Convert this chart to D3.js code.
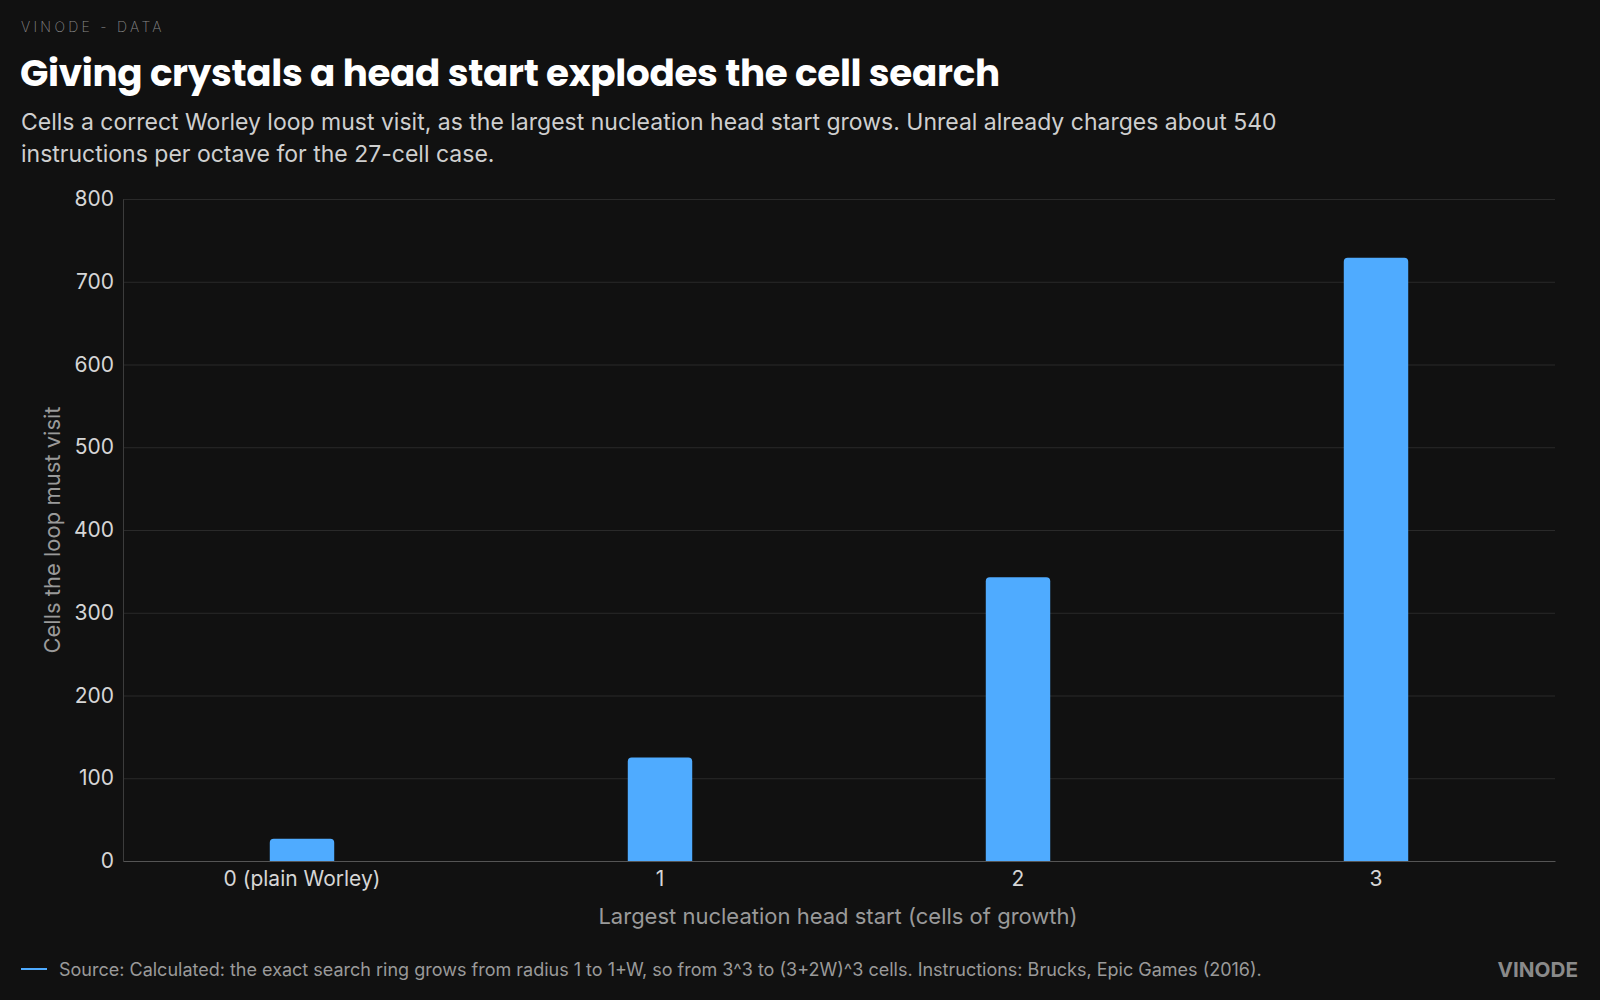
<!DOCTYPE html>
<html>
<head>
<meta charset="utf-8">
<script src="https://cdn.jsdelivr.net/npm/d3@7/dist/d3.min.js"></script>
<style>
  html, body { margin: 0; padding: 0; background: #111111; }
  svg { display: block; }
  text { font-family: Inter, "Noto Sans", sans-serif; }
</style>
</head>
<body>
<svg id="chart" width="1600" height="1000"></svg>
<script>
const categories = ["0 (plain Worley)", "1", "2", "3"];
const cellsVisited = [27, 125, 343, 729];
const yTicks = [0, 100, 200, 300, 400, 500, 600, 700, 800];

const kicker = "VINODE - DATA";
const title = "Giving crystals a head start explodes the cell search";
const subtitleLines = [
  "Cells a correct Worley loop must visit, as the largest nucleation head start grows. Unreal already charges about 540",
  "instructions per octave for the 27-cell case."
];
const xTitle = "Largest nucleation head start (cells of growth)";
const yTitle = "Cells the loop must visit";
const source = "Source: Calculated: the exact search ring grows from radius 1 to 1+W, so from 3^3 to (3+2W)^3 cells. Instructions: Brucks, Epic Games (2016).";
const brand = "VINODE";

const svg = d3.select("#chart");
const W = 1600, H = 1000;
svg.append("rect").attr("width", W).attr("height", H).attr("fill", "#111111");

const m = { left: 123, right: 1555, top: 199, bottom: 861 };

const x = d3.scaleBand().domain(categories).range([m.left, m.right])
  .paddingInner(0.82).paddingOuter(0.41);
const y = d3.scaleLinear().domain([0, 800]).range([m.bottom, m.top]);

// header
const k = svg.append("text").attr("x", 21).attr("y", 32)
  .attr("fill", "#8a8a8a").attr("font-size", 14).attr("font-weight", 200)
  .attr("letter-spacing", 3.3).text(kicker);

const t = svg.append("text").attr("x", 20).attr("y", 86)
  .attr("fill", "#ffffff").attr("font-size", 37).attr("font-weight", 700)
  .attr("letter-spacing", -0.3)
  .style("font-family", "Poppins, Inter, sans-serif").text(title);
const tw = t.node().getComputedTextLength();
t.attr("font-size", 37 * 980 / tw);

subtitleLines.forEach((line, i) => {
  svg.append("text").attr("x", 21).attr("y", 130 + i * 32)
    .attr("fill", "#cfcfcf").attr("font-size", 23).text(line);
});

// grid
const g = svg.append("g");
g.selectAll("line.grid").data(yTicks.filter(d => d > 0)).join("line")
  .attr("class", "grid")
  .attr("x1", m.left).attr("x2", m.right)
  .attr("y1", d => y(d) + 0.5).attr("y2", d => y(d) + 0.5)
  .attr("stroke", "#2a2a2a").attr("stroke-width", 1);

// y axis
const yAxis = svg.append("g").attr("transform", `translate(${m.left},0)`)
  .call(d3.axisLeft(y).tickValues(yTicks).tickSize(0).tickPadding(9));
yAxis.select(".domain").attr("stroke", "#3c3c3c");
yAxis.selectAll("text").attr("fill", "#d6d6d6").attr("font-size", 21)
  .style("font-family", "Inter, sans-serif");

// bars
const r = 4;
svg.append("g").selectAll("path.bar").data(categories.map((c, i) => ({ c, v: cellsVisited[i] })))
  .join("path").attr("class", "bar")
  .attr("fill", "#4fabff")
  .attr("d", d => {
    const x0 = x(d.c), x1 = x0 + x.bandwidth(), y0 = y(0), y1 = y(d.v);
    return `M${x0},${y0}V${y1 + r}Q${x0},${y1} ${x0 + r},${y1}H${x1 - r}Q${x1},${y1} ${x1},${y1 + r}V${y0}Z`;
  });

// x axis
const xAxis = svg.append("g").attr("transform", `translate(0,${m.bottom})`)
  .call(d3.axisBottom(x).tickSize(0).tickPadding(10));
xAxis.select(".domain").attr("stroke", "#555555");
xAxis.selectAll("text").attr("fill", "#d6d6d6").attr("font-size", 21)
  .style("font-family", "Inter, sans-serif");

// axis titles
svg.append("text").attr("x", 838).attr("y", 924).attr("text-anchor", "middle")
  .attr("fill", "#9a9a9a").attr("font-size", 22).text(xTitle);
svg.append("text").attr("transform", "translate(60,530) rotate(-90)")
  .attr("text-anchor", "middle").attr("fill", "#9a9a9a").attr("font-size", 22).text(yTitle);

// footer
svg.append("line").attr("x1", 21).attr("x2", 47).attr("y1", 969).attr("y2", 969)
  .attr("stroke", "#4fabff").attr("stroke-width", 2);
svg.append("text").attr("x", 59).attr("y", 975.5)
  .attr("fill", "#9a9a9a").attr("font-size", 18).text(source);
svg.append("text").attr("x", 1578).attr("y", 976.5).attr("text-anchor", "end")
  .attr("fill", "#8a8a8a").attr("font-size", 20.7).attr("font-weight", 700).text(brand);
</script>
</body>
</html>
